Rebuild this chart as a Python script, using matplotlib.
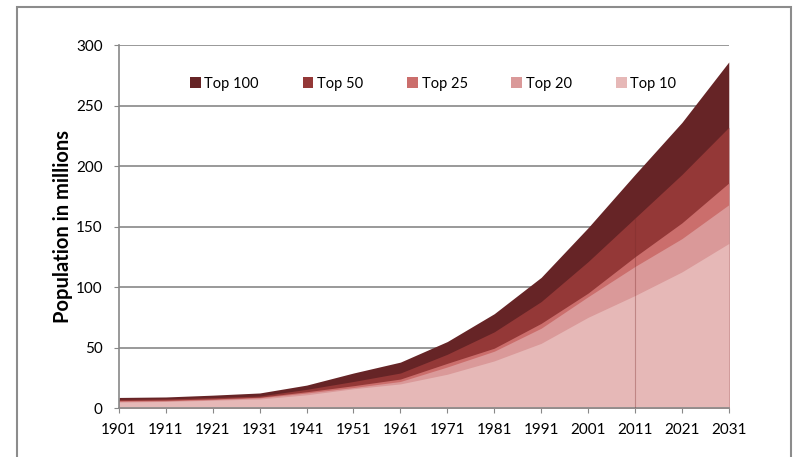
import matplotlib
matplotlib.use("Agg")
import matplotlib.pyplot as plt
from matplotlib.patches import Rectangle, Patch
import numpy as np

plt.rcParams["font.family"] = ["Lato", "DejaVu Sans"]

years = [1901, 1911, 1921, 1931, 1941, 1951, 1961, 1971, 1981, 1991, 2001, 2011, 2021, 2031]

# population in millions (each series is a running total, drawn overlapping)
top100 = [8.8, 9.2, 10.7, 12.5, 19, 29, 38, 55, 78, 108, 149, 193, 236, 286]
top50 = [7.2, 7.6, 8.6, 10, 15.5, 22, 29, 44.5, 63, 88, 121, 157, 193, 232]
top25 = [6.2, 6.6, 7.6, 9, 13.5, 18.5, 24, 37, 49.5, 70, 95, 125, 153, 186]
top20 = [5.6, 6, 7, 8.5, 12.5, 17, 22, 34, 47, 66, 92, 117, 140, 168]
top10 = [5, 5.5, 6.5, 7.5, 11, 16, 20, 28, 39, 53.5, 75, 93, 112.5, 136]

series = [("Top 100", top100, "#662426"),
          ("Top 50", top50, "#943837"),
          ("Top 25", top25, "#CB6E6C"),
          ("Top 20", top20, "#DA9999"),
          ("Top 10", top10, "#E6B8B7")]

fig = plt.figure(figsize=(7.93, 4.57), dpi=100)
ax = fig.add_axes([0.150, 0.107, 0.769, 0.7945])

for name, vals, col in series:
    ax.fill_between(years, 0, vals, color=col, linewidth=0, zorder=2)

# thin line at 2011
i11 = years.index(2011)
ax.vlines(2011, 0, top50[i11], color="#7a2a2a", alpha=0.35, linewidth=0.8, zorder=3)

ax.set_xlim(years[0], years[-1])
ax.set_ylim(0, 300)
ax.set_xticks(years)
ax.set_yticks(range(0, 301, 50))
ax.tick_params(axis="both", labelsize=11, color="#888888", length=3.6, direction="out")
ax.tick_params(axis="y", pad=8)
ax.tick_params(axis="x", pad=7)
ax.grid(axis="y", color="#888888", linewidth=1.2, zorder=1)
ax.set_axisbelow(True)
for s in ["top", "right"]:
    ax.spines[s].set_visible(False)
for s in ["left", "bottom"]:
    ax.spines[s].set_color("#888888")
    ax.spines[s].set_linewidth(1.2)

ax.set_ylabel("Population in millions", fontsize=14.5, fontweight="bold")
ax.yaxis.set_label_coords(-0.076, 0.5)

handles = [Patch(facecolor=c, edgecolor="none", label=n) for n, v, c in series]
ax.legend(handles=handles, loc="center", bbox_to_anchor=(0.515, 0.893), ncol=5,
          frameon=False, fontsize=10.5, handlelength=0.75, handleheight=0.75,
          handletextpad=0.25, columnspacing=3.0)

# outer chart border
fig.patches.append(Rectangle((17 / 793, -0.05), (791 - 17) / 793, 1 - 7 / 457 + 0.05,
                             transform=fig.transFigure, fill=False,
                             edgecolor="#8c8c8c", linewidth=1.5))

fig.savefig("out.png", dpi=100)
